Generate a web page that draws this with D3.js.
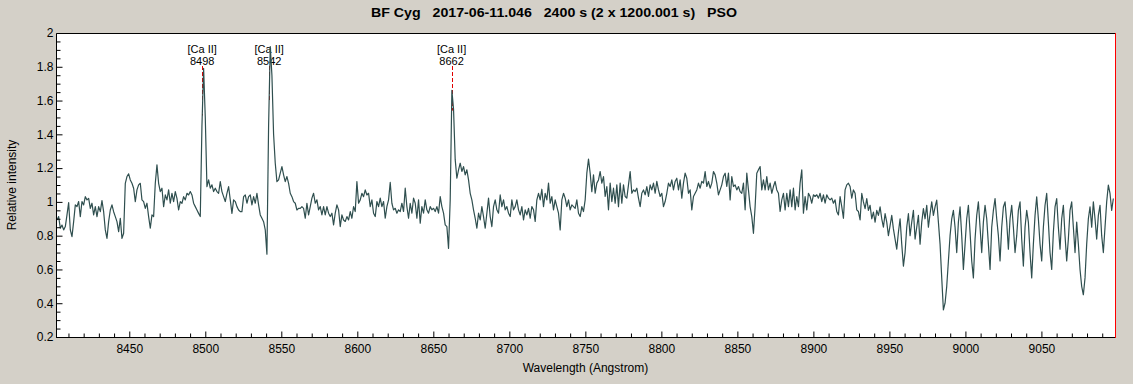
<!DOCTYPE html>
<html lang="en">
<head>
    <meta charset="UTF-8">
    <script src="https://d3js.org/d3.v7.min.js"></script>
    <title>BF Cyg spectrum</title>
    <style>
        body {
            margin: 0;
            background-color: #d4d0c8;
            font-family: "Liberation Sans", Arial, sans-serif;
        }
        svg text {
            fill: #000;
        }
    </style>
</head>
<body>
    <div id="chart"></div>

    <script>
        // spectrum, sampled on a regular wavelength grid
        const lambdaStart = 8402.45;
        const lambdaStep = 1.096;
        const flux = [
            0.893, 0.913, 0.844, 0.863, 0.834, 0.854, 0.923, 0.996, 0.834, 0.794,
            0.883, 0.982, 0.972, 1.002, 0.913, 1.002, 0.982, 1.031, 1.012, 1.021,
            0.962, 0.992, 0.923, 0.972, 0.913, 0.972, 0.942, 1.008, 0.942, 0.834,
            0.784, 0.883, 0.952, 0.982, 0.942, 0.913, 0.883, 0.824, 0.903, 0.784,
            0.814, 1.110, 1.150, 1.166, 1.130, 1.110, 1.081, 1.002, 1.071, 1.101,
            1.110, 1.012, 1.002, 0.962, 0.992, 0.913, 0.844, 0.923, 0.913, 1.110,
            1.219, 1.110, 1.061, 1.081, 0.972, 1.041, 1.012, 1.071, 0.992, 1.051,
            1.002, 1.061, 1.021, 0.952, 1.002, 0.992, 1.031, 1.012, 1.051, 1.041,
            1.061, 1.041, 0.992, 0.972, 0.952, 0.932, 0.913, 1.450, 1.790, 1.500,
            1.090, 1.130, 1.081, 1.101, 1.061, 1.081, 1.061, 1.051, 1.120, 1.061,
            1.031, 1.002, 1.051, 1.091, 1.012, 0.932, 1.012, 1.002, 0.972, 0.952,
            0.942, 0.942, 1.031, 1.041, 0.992, 1.031, 1.041, 0.982, 1.031, 0.992,
            1.051, 0.982, 0.923, 0.903, 0.883, 0.834, 0.690, 1.450, 1.920, 1.750,
            1.400, 1.229, 1.120, 1.130, 1.170, 1.209, 1.160, 1.120, 1.150, 1.110,
            1.051, 1.031, 1.002, 0.992, 0.952, 0.962, 0.962, 0.972, 0.962, 0.903,
            0.992,
            0.923, 0.972, 1.022, 1.051, 0.992, 1.012, 0.953, 0.972, 0.923, 0.972,
            0.923, 0.972, 0.933, 0.913, 0.933, 0.864, 0.933, 0.982, 0.953, 0.854,
            0.923, 0.893, 0.884, 0.913, 0.893, 0.943, 0.903, 0.972, 0.943, 1.120,
            0.992, 1.012, 1.051, 1.031, 1.071, 1.041, 1.051, 0.972, 1.012, 0.933,
            0.913, 1.002, 0.972, 1.022, 0.972, 1.002, 0.903, 0.972, 1.012, 1.115,
            0.992, 0.953, 0.962, 0.933, 0.953, 0.943, 0.992, 0.943, 1.081, 0.972,
            0.903, 0.992, 0.933, 1.022, 0.992, 0.903, 1.012, 0.874, 0.972, 0.933,
            1.012, 0.953, 0.933, 0.972, 0.953, 0.962, 0.943, 0.972, 0.933, 1.031,
            0.972, 0.933, 0.864, 0.854, 0.725, 1.012, 1.660, 1.550, 1.250, 1.140,
            1.190, 1.229, 1.180, 1.209, 1.160, 1.190, 1.130, 1.051, 1.012, 0.953,
            0.903, 0.844, 0.933, 0.893, 0.972, 0.913, 0.844, 0.933, 1.022, 0.913,
            0.854, 0.972, 1.012, 0.953, 0.933, 1.041, 0.972, 1.012, 0.953, 0.972,
            0.933, 0.913, 1.012, 0.953, 0.972, 1.012, 0.953, 0.923, 0.972, 0.893,
            0.953, 0.923, 0.962, 0.903, 0.972, 0.953, 0.884, 1.012, 1.051, 1.012,
            1.075, 0.972, 1.051, 1.012, 1.111, 0.992, 1.031, 0.953, 1.012, 0.972,
            0.933, 0.834, 1.012, 1.051, 1.022, 0.972, 1.012, 0.953, 0.982, 0.972,
            0.962, 1.012, 0.933,
            0.913, 0.972, 0.943, 1.012, 1.170, 1.253, 1.170, 1.061, 1.160, 1.051,
            1.111, 1.130, 1.180, 1.111, 1.150, 1.032, 1.091, 0.953, 1.111, 1.002,
            1.081, 0.992, 1.101, 0.972, 1.111, 0.992, 1.101, 1.032, 1.022, 1.101,
            1.180, 1.051, 1.071, 1.061, 1.081, 1.022, 0.972, 1.051, 1.071, 1.042,
            1.091, 1.032, 1.101, 1.071, 1.111, 1.051, 1.121, 1.071, 1.032, 1.051,
            0.972, 1.002, 1.051, 1.111, 1.091, 1.130, 1.071, 1.121, 1.140, 1.071,
            1.130, 1.022, 1.111, 1.170, 1.140, 1.051, 1.071, 0.953, 1.032, 1.051,
            1.071, 1.111, 1.081, 1.121, 1.111, 1.180, 1.091, 1.121, 1.081, 1.111,
            1.180, 1.160, 1.111, 1.042, 1.071, 1.101, 1.150, 1.170, 1.091, 1.170,
            1.012, 1.150, 1.091, 1.101, 1.071, 1.091, 1.061, 1.051, 1.111, 0.953,
            1.170, 1.071, 0.972, 0.913, 0.814, 0.972, 1.170, 1.190, 1.209, 1.071,
            1.130, 1.071, 1.150, 1.071, 1.111, 1.051, 1.091, 1.121, 1.071, 1.051,
            0.943, 1.012, 1.051, 0.953, 1.051, 0.972, 1.071, 0.972, 1.081, 0.953,
            1.032, 0.972, 1.111, 1.190, 0.933, 1.032, 0.953, 1.051, 1.032, 0.992,
            1.042, 1.032, 1.042, 1.022, 1.051, 1.002, 1.042, 0.992, 1.042, 1.022,
            1.012, 1.022, 0.992, 1.012, 0.943, 0.923, 1.032, 0.972, 0.903, 1.071,
            1.101, 1.111, 1.091, 1.022, 1.071, 1.051, 0.953, 0.943, 0.893,
            1.05, 1.00, 0.96, 1.02, 0.95, 0.98, 0.90, 0.94, 0.88, 0.95, 0.92, 0.97,
            0.90, 0.85, 0.93, 0.88, 0.80, 0.86, 0.92, 0.84, 0.78, 0.72,
            0.82, 0.90, 0.75, 0.62, 0.70, 0.85, 0.93, 0.80, 0.88,
            0.95, 0.78, 0.85, 0.92, 0.75, 0.88, 0.96, 0.90, 0.98,
            0.85, 0.93, 1.00, 0.92, 0.97, 1.01, 0.88, 0.75,
            0.55, 0.36, 0.40, 0.50, 0.65, 0.80,
            0.90, 0.95, 0.85, 0.70, 0.88, 0.97, 0.80, 0.60, 0.75,
            0.90, 0.98, 0.82, 0.65, 0.55, 0.78, 0.92, 1.00, 0.85,
            0.70, 0.88, 0.98, 0.90, 0.75, 0.60, 0.85, 0.95, 1.02,
            0.90, 0.80, 0.65, 0.85, 0.97, 1.00, 0.88, 0.72, 0.90,
            0.98, 0.85, 0.70, 0.80, 0.95, 1.00, 0.78, 0.62, 0.85,
            0.95, 0.88, 0.70, 0.55, 0.75, 0.92, 1.03, 0.90, 0.75,
            0.65, 0.85, 0.98, 1.05, 0.88, 0.70, 0.60, 0.82, 0.97,
            1.02, 0.85, 0.72, 0.90, 0.98, 0.80, 0.65, 0.78, 0.95,
            1.00, 0.85, 0.70, 0.88, 0.75, 0.60, 0.50, 0.45, 0.55,
            0.75, 0.90, 0.97, 0.85, 1.00, 0.90, 0.78, 0.92, 0.98,
            0.80, 0.70, 0.85, 1.00, 1.10, 1.05, 0.95, 1.02
        ];

        const lineNames = ["[Ca II]", "[Ca II]", "[Ca II]"];
        const lineWavelengths = [8498, 8542, 8662];

        const xMajorTicks = [8450, 8500, 8550, 8600, 8650, 8700, 8750, 8800, 8850, 8900, 8950, 9000, 9050];
        const yMajorTicks = [0.2, 0.4, 0.6, 0.8, 1, 1.2, 1.4, 1.6, 1.8, 2];

        const titleText = "BF Cyg   2017-06-11.046   2400 s (2 x 1200.001 s)   PSO";

        const width = 1133;
        const height = 384;
        const plot = { left: 56, top: 33, right: 1115, bottom: 337 };

        const spectrum = flux.map((f, i) => ({ wl: lambdaStart + i * lambdaStep, f: f }));

        const x = d3.scaleLinear()
            .domain([8401.8, 9098.4])
            .range([plot.left, plot.right]);
        const y = d3.scaleLinear()
            .domain([0.2, 2])
            .range([plot.bottom, plot.top]);

        const svg = d3.select("#chart").append("svg")
            .attr("width", width)
            .attr("height", height)
            .style("display", "block");

        svg.append("rect")
            .attr("x", plot.left)
            .attr("y", plot.top)
            .attr("width", plot.right - plot.left)
            .attr("height", plot.bottom - plot.top)
            .attr("fill", "#fff");

        svg.append("clipPath").attr("id", "clip")
            .append("rect")
            .attr("x", plot.left)
            .attr("y", plot.top)
            .attr("width", plot.right - plot.left)
            .attr("height", plot.bottom - plot.top);

        // title
        svg.append("text")
            .attr("x", 371)
            .attr("y", 17)
            .attr("textLength", 366)
            .attr("lengthAdjust", "spacingAndGlyphs")
            .style("white-space", "pre")
            .style("font-size", "13px")
            .style("font-weight", "bold")
            .text(titleText);

        // line markers (drawn under the spectrum)
        const fluxAt = d3.scaleLinear()
            .domain(spectrum.map(d => d.wl))
            .range(spectrum.map(d => d.f));

        lineWavelengths.forEach((wl, i) => {
            svg.append("line")
                .attr("x1", Math.round(x(wl)) + 0.5)
                .attr("x2", Math.round(x(wl)) + 0.5)
                .attr("y1", 66)
                .attr("y2", y(fluxAt(wl)))
                .attr("stroke", "#e00000")
                .attr("stroke-width", 1)
                .attr("stroke-dasharray", "4,2");

            svg.append("text")
                .attr("x", x(wl))
                .attr("y", 53)
                .attr("text-anchor", "middle")
                .style("font-size", "11px")
                .text(lineNames[i]);
            svg.append("text")
                .attr("x", x(wl))
                .attr("y", 65)
                .attr("text-anchor", "middle")
                .style("font-size", "11px")
                .text(wl);
        });

        // spectrum
        const line = d3.line()
            .x(d => x(d.wl))
            .y(d => y(d.f));

        svg.append("path")
            .datum(spectrum)
            .attr("clip-path", "url(#clip)")
            .attr("d", line)
            .attr("fill", "none")
            .attr("stroke", "#2f4f4f")
            .attr("stroke-width", 1.2)
            .attr("stroke-linejoin", "round");

        // axes, ticks pointing into the plot
        const xMinor = d3.range(8410, 9100, 10).filter(v => v % 50 !== 0);
        const yMinor = d3.range(0.25, 2, 0.05).filter(v => Math.abs(v * 5 - Math.round(v * 5)) > 1e-6);

        const xAxis = svg.append("g")
            .attr("transform", `translate(0,${plot.bottom + 0.5})`)
            .call(d3.axisBottom(x).tickValues(xMajorTicks).tickSizeInner(-6).tickSizeOuter(0).tickPadding(7).tickFormat(d3.format("d")));
        svg.append("g")
            .attr("transform", `translate(0,${plot.bottom + 0.5})`)
            .call(d3.axisBottom(x).tickValues(xMinor).tickSizeInner(-4).tickSizeOuter(0).tickFormat(""));

        const yAxis = svg.append("g")
            .attr("transform", `translate(${plot.left + 0.5},0)`)
            .call(d3.axisLeft(y).tickValues(yMajorTicks).tickSizeInner(-6).tickSizeOuter(0).tickPadding(3).tickFormat(d => d3.format("")(+d.toFixed(1))));
        svg.append("g")
            .attr("transform", `translate(${plot.left + 0.5},0)`)
            .call(d3.axisLeft(y).tickValues(yMinor).tickSizeInner(-4).tickSizeOuter(0).tickFormat(""));

        svg.selectAll(".domain").remove();
        svg.selectAll(".tick line").attr("stroke", "#000");
        svg.selectAll(".tick text")
            .style("font-size", "12px")
            .style("font-family", "'Liberation Sans', Arial, sans-serif")
            .attr("fill", "#000");
        xAxis.selectAll(".tick text").attr("dy", "0.71em");

        // frame: black on three sides, red on the right
        svg.append("path")
            .attr("d", `M${plot.left + 0.5},${plot.bottom + 0.5}V${plot.top + 0.5}H${plot.right}`)
            .attr("fill", "none")
            .attr("stroke", "#000");
        svg.append("line")
            .attr("x1", plot.left)
            .attr("x2", plot.right)
            .attr("y1", plot.bottom + 0.5)
            .attr("y2", plot.bottom + 0.5)
            .attr("stroke", "#000");
        svg.append("line")
            .attr("x1", plot.right + 0.5)
            .attr("x2", plot.right + 0.5)
            .attr("y1", plot.top)
            .attr("y2", plot.bottom + 1)
            .attr("stroke", "#ff0000");

        // axis titles
        svg.append("text")
            .attr("x", (plot.left + plot.right) / 2)
            .attr("y", 372)
            .attr("text-anchor", "middle")
            .style("font-size", "12px")
            .text("Wavelength (Angstrom)");

        svg.append("text")
            .attr("transform", `translate(16,${(plot.top + plot.bottom) / 2}) rotate(-90)`)
            .attr("text-anchor", "middle")
            .style("font-size", "12px")
            .text("Relative intensity");
    </script>
</body>
</html>
